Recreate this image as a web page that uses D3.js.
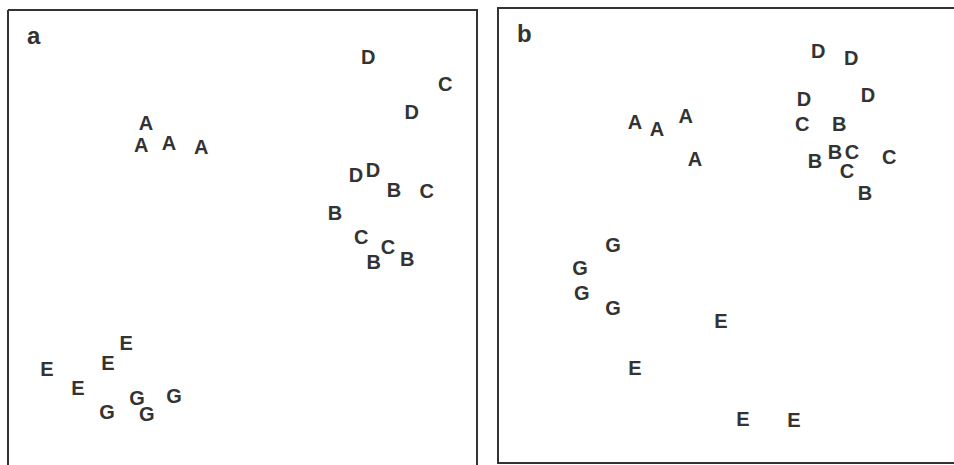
<!DOCTYPE html>
<html>
<head>
<meta charset="utf-8">
<script src="https://cdn.jsdelivr.net/npm/d3@7"></script>
<style>
  html, body { margin: 0; padding: 0; background: #fff; overflow: hidden; }
  svg text { font-family: "Liberation Sans", Arial, sans-serif; }
</style>
</head>
<body>
<div id="chart"></div>
<script>
// ordination scores (both axes 0..100 of the plot frame)
const labelsA = ["A","A","A","A","B","B","B","B","C","C","C","C","D","D","D","D","E","E","E","E","G","G","G","G"];
const xA = [29.4, 28.4, 34.3, 41.2, 82.3, 69.7, 78.0, 85.1, 93.2, 89.3, 75.3, 81.0, 76.8, 86.1, 74.2, 77.8, 25.2, 8.3, 21.3, 14.9, 21.1, 27.5, 29.6, 35.4];
const yA = [75.2, 70.4, 70.8, 70.0, 60.5, 55.5, 44.7, 45.4, 83.8, 60.3, 50.2, 48.0, 89.7, 77.6, 63.8, 64.9, 27.0, 21.3, 22.6, 17.1, 11.8, 14.9, 11.4, 15.4];

const labelsB = ["A","A","A","A","B","B","B","B","C","C","C","C","D","D","D","D","E","E","E","E","G","G","G","G"];
const xB = [29.9, 34.7, 41.0, 43.0, 74.5, 73.6, 69.2, 80.1, 66.4, 77.3, 85.4, 76.2, 69.9, 77.1, 66.8, 80.8, 48.7, 29.9, 53.5, 64.6, 25.1, 17.9, 18.3, 25.1];
const yB = [74.9, 73.4, 76.3, 66.8, 74.5, 68.4, 66.4, 59.3, 74.5, 68.4, 67.3, 64.2, 90.5, 89.0, 80.0, 80.9, 31.2, 20.9, 9.7, 9.5, 47.9, 42.9, 37.4, 34.1];

const panelTags = ["a", "b"];

const W = 954, H = 465;
const svg = d3.select("#chart").append("svg").attr("width", W).attr("height", H);

const panels = [
    { tag: panelTags[0], labels: labelsA, xs: xA, ys: yA, x0: 8, x1: 477, y0: 10, y1: 466 },
    { tag: panelTags[1], labels: labelsB, xs: xB, ys: yB, x0: 498, x1: 956, y0: 8, y1: 463 }
];

panels.forEach(p => {
    const g = svg.append("g");
    const x = d3.scaleLinear().domain([0, 100]).range([p.x0, p.x1]),
        y = d3.scaleLinear().domain([0, 100]).range([p.y1, p.y0]);

    // frame, drawn side by side so the right edge of b runs off the page
    const fr = g.append("path").attr("fill", "none").attr("stroke", "#333").attr("stroke-width", 2);
    if (p.x1 > W) fr.attr("d", `M${W + 4},${p.y0}H${p.x0}V${p.y1}H${W + 4}`);
    else fr.attr("d", `M${p.x0},${p.y0}H${p.x1}V${p.y1 + 4}M${p.x0},${p.y0}V${p.y1 + 4}`);

    g.append("text").attr("x", p.x0 + 19).attr("y", p.y0 + 34)
        .attr("font-size", 24).attr("font-weight", "bold").attr("fill", "#333")
        .text(p.tag);

    g.selectAll("text.pt").data(p.labels).join("text").attr("class", "pt")
        .attr("x", (d, i) => x(p.xs[i])).attr("y", (d, i) => y(p.ys[i]))
        .attr("dy", "0.36em").attr("text-anchor", "middle")
        .attr("font-size", 20).attr("font-weight", "bold").attr("fill", "#333")
        .text(d => d);
});
</script>
</body>
</html>
